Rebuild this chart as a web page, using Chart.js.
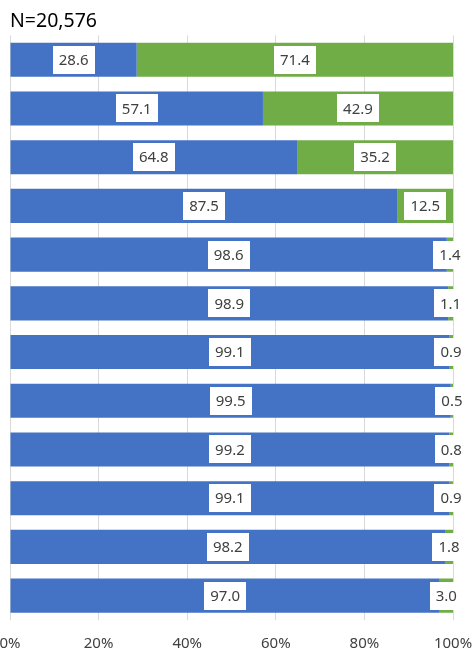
<!DOCTYPE html>
<html>
<head>
<meta charset="utf-8">
<script src="https://cdn.jsdelivr.net/npm/chart.js@4"></script>
<style>
  body { margin: 0; background: #fff; }
  #wrap { width: 473px; height: 649px; }
</style>
</head>
<body>
<div id="wrap"><canvas id="chart" width="473" height="649"></canvas></div>
<script>
// Data
const categories = ['1', '2', '3', '4', '5', '6', '7', '8', '9', '10', '11', '12'];
const blueValues = [28.6, 57.1, 64.8, 87.5, 98.6, 98.9, 99.1, 99.5, 99.2, 99.1, 98.2, 97.0];
const greenValues = [71.4, 42.9, 35.2, 12.5, 1.4, 1.1, 0.9, 0.5, 0.8, 0.9, 1.8, 3.0];
const xTicks = [0, 20, 40, 60, 80, 100];
const titleText = 'N=20,576';

const FONT = '"Noto Sans", "Noto Sans CJK JP", sans-serif';

// White boxed value labels in the middle of each segment
const boxLabels = {
    id: 'boxLabels',
    afterDatasetsDraw(chart) {
        const ctx = chart.ctx;
        ctx.save();
        ctx.font = '15px ' + FONT;
        ctx.textAlign = 'center';
        ctx.textBaseline = 'middle';
        chart.data.datasets.forEach((ds, di) => {
            const meta = chart.getDatasetMeta(di);
            meta.data.forEach((bar, i) => {
                const p = bar.getProps(['x', 'y', 'base'], true);
                const cx = (p.x + p.base) / 2;
                const text = ds.data[i].toFixed(1);
                const w = ctx.measureText(text).width + 12;
                const h = 28;
                ctx.fillStyle = '#ffffff';
                ctx.fillRect(Math.round(cx - w / 2), Math.round(p.y - h / 2), Math.round(w), h);
                ctx.fillStyle = '#404040';
                ctx.fillText(text, cx, p.y + 1);
            });
        });
        ctx.restore();
    }
};

const ctx = document.getElementById('chart').getContext('2d');
new Chart(ctx, {
    type: 'bar',
    data: {
        labels: categories,
        datasets: [
            { data: blueValues, backgroundColor: '#4472C4', categoryPercentage: 1, barPercentage: 0.7 },
            { data: greenValues, backgroundColor: '#70AD47', categoryPercentage: 1, barPercentage: 0.7 }
        ]
    },
    options: {
        indexAxis: 'y',
        responsive: false,
        animation: false,
        layout: { padding: { left: 10, right: 20, top: 0, bottom: 0 } },
        plugins: {
            legend: { display: false },
            tooltip: { enabled: false },
            title: {
                display: true,
                text: titleText,
                align: 'start',
                color: '#000000',
                font: { family: FONT, size: 19.5, weight: 'normal' },
                padding: { top: 10, bottom: 2 }
            }
        },
        scales: {
            x: {
                stacked: true,
                min: 0,
                max: 100,
                afterBuildTicks: (scale) => { scale.ticks = xTicks.map(v => ({ value: v })); },
                afterFit: (scale) => {
                    scale.paddingLeft = 0;
                    scale.paddingRight = 0;
                    scale.height = 29;
                },
                ticks: {
                    callback: (v) => v + '%',
                    color: '#404040',
                    font: { family: FONT, size: 15 },
                    padding: 15,
                    maxRotation: 0
                },
                grid: { color: '#d9d9d9', drawTicks: false },
                border: { display: false }
            },
            y: {
                stacked: true,
                display: false
            }
        }
    },
    plugins: [boxLabels]
});
</script>
</body>
</html>
